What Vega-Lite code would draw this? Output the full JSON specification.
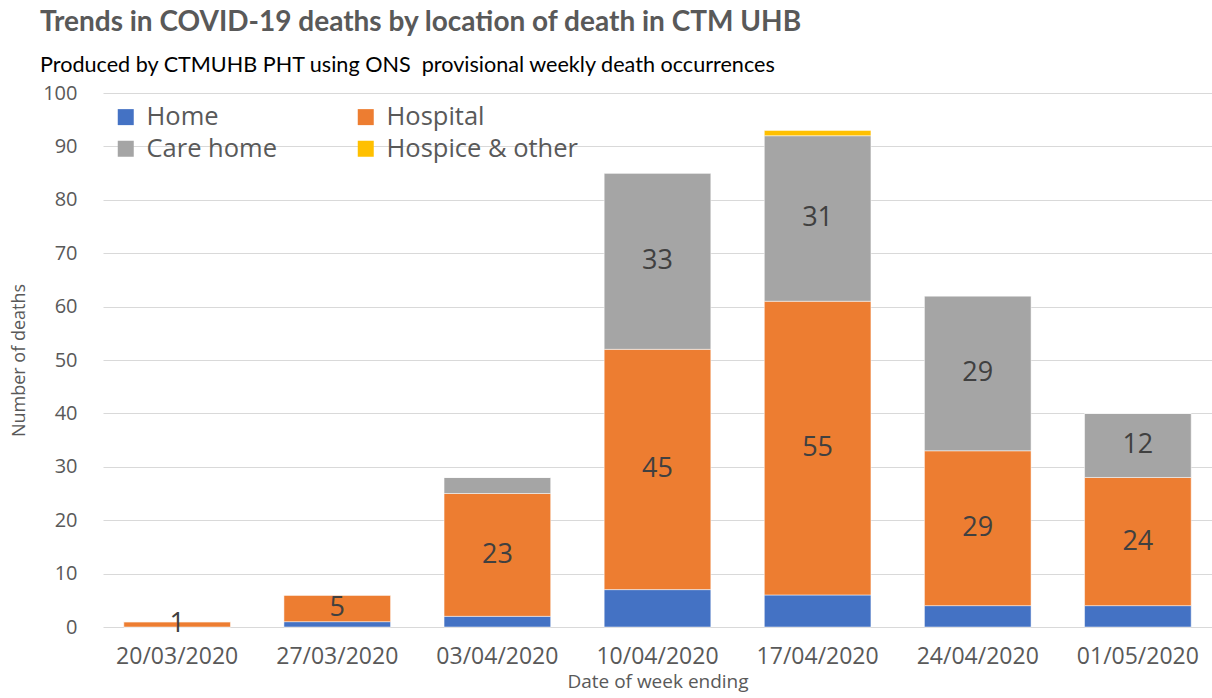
{
  "$schema": "https://vega.github.io/schema/vega-lite/v6.json",
  "autosize": {"type": "none"},
  "padding": {"left": 103, "top": 93, "right": 0, "bottom": 71},
  "width": 1109,
  "height": 534,
  "background": "white",
  "config": {
    "view": {"stroke": null},
    "font": "Open Sans"
  },
  "title": {
    "text": "Trends in COVID-19 deaths by location of death in CTM UHB",
    "subtitle": "Produced by CTMUHB PHT using ONS\u00a0 provisional weekly death occurrences",
    "anchor": "start",
    "frame": "group",
    "dx": -63,
    "offset": 6,
    "font": "Lato",
    "fontSize": 28,
    "fontWeight": "bold",
    "color": "#595959",
    "subtitleFont": "Lato",
    "subtitleFontSize": 21.6,
    "subtitleColor": "#000000",
    "subtitlePadding": 18
  },
  "data": {
    "values": [
      {"week": "20/03/2020", "location": "Home", "ord": 1, "deaths": 0},
      {"week": "20/03/2020", "location": "Hospital", "ord": 2, "deaths": 1},
      {"week": "20/03/2020", "location": "Care home", "ord": 3, "deaths": 0},
      {"week": "20/03/2020", "location": "Hospice & other", "ord": 4, "deaths": 0},
      {"week": "27/03/2020", "location": "Home", "ord": 1, "deaths": 1},
      {"week": "27/03/2020", "location": "Hospital", "ord": 2, "deaths": 5},
      {"week": "27/03/2020", "location": "Care home", "ord": 3, "deaths": 0},
      {"week": "27/03/2020", "location": "Hospice & other", "ord": 4, "deaths": 0},
      {"week": "03/04/2020", "location": "Home", "ord": 1, "deaths": 2},
      {"week": "03/04/2020", "location": "Hospital", "ord": 2, "deaths": 23},
      {"week": "03/04/2020", "location": "Care home", "ord": 3, "deaths": 3},
      {"week": "03/04/2020", "location": "Hospice & other", "ord": 4, "deaths": 0},
      {"week": "10/04/2020", "location": "Home", "ord": 1, "deaths": 7},
      {"week": "10/04/2020", "location": "Hospital", "ord": 2, "deaths": 45},
      {"week": "10/04/2020", "location": "Care home", "ord": 3, "deaths": 33},
      {"week": "10/04/2020", "location": "Hospice & other", "ord": 4, "deaths": 0},
      {"week": "17/04/2020", "location": "Home", "ord": 1, "deaths": 6},
      {"week": "17/04/2020", "location": "Hospital", "ord": 2, "deaths": 55},
      {"week": "17/04/2020", "location": "Care home", "ord": 3, "deaths": 31},
      {"week": "17/04/2020", "location": "Hospice & other", "ord": 4, "deaths": 1},
      {"week": "24/04/2020", "location": "Home", "ord": 1, "deaths": 4},
      {"week": "24/04/2020", "location": "Hospital", "ord": 2, "deaths": 29},
      {"week": "24/04/2020", "location": "Care home", "ord": 3, "deaths": 29},
      {"week": "24/04/2020", "location": "Hospice & other", "ord": 4, "deaths": 0},
      {"week": "01/05/2020", "location": "Home", "ord": 1, "deaths": 4},
      {"week": "01/05/2020", "location": "Hospital", "ord": 2, "deaths": 24},
      {"week": "01/05/2020", "location": "Care home", "ord": 3, "deaths": 12},
      {"week": "01/05/2020", "location": "Hospice & other", "ord": 4, "deaths": 0}
    ]
  },
  "transform": [
    {"stack": "deaths", "groupby": ["week"], "sort": [{"field": "ord", "order": "ascending"}], "as": ["y0", "y1"]},
    {"calculate": "(datum.y0 + datum.y1) / 2", "as": "ymid"}
  ],
  "encoding": {
    "x": {
      "field": "week",
      "type": "nominal",
      "sort": null,
      "scale": {"paddingInner": 0.334, "paddingOuter": 0.13},
      "axis": {
        "title": "Date of week ending",
        "labelAngle": 0,
        "labelFontSize": 23,
        "labelColor": "#595959",
        "labelPadding": 18,
        "ticks": false,
        "domain": false,
        "titleFontSize": 19,
        "titleFontWeight": "normal",
        "titleColor": "#595959",
        "titlePadding": 4
      }
    }
  },
  "layer": [
    {
      "mark": {"type": "bar", "stroke": "white", "strokeWidth": 0.5},
      "encoding": {
        "y": {
          "field": "y1",
          "type": "quantitative",
          "scale": {"domain": [0, 100]},
          "axis": {
            "title": "Number of deaths",
            "values": [0, 10, 20, 30, 40, 50, 60, 70, 80, 90, 100],
            "labelFontSize": 20,
            "labelColor": "#595959",
            "labelPadding": 26,
            "ticks": false,
            "domain": false,
            "gridColor": "#d9d9d9",
            "gridWidth": 1,
            "titleFontSize": 18,
            "titleFontWeight": "normal",
            "titleColor": "#595959",
            "titlePadding": 14
          }
        },
        "y2": {"field": "y0"},
        "color": {
          "field": "location",
          "type": "nominal",
          "scale": {
            "domain": ["Home", "Hospital", "Care home", "Hospice & other"],
            "range": ["#4472C4", "#ED7D31", "#A5A5A5", "#FFC000"]
          },
          "legend": {
            "title": null,
            "orient": "none",
            "direction": "horizontal",
            "legendX": 10,
            "legendY": 11,
            "columns": 2,
            "columnPadding": 75,
            "rowPadding": 5,
            "symbolType": "square",
            "symbolSize": 256,
            "symbolStrokeWidth": 0,
            "labelFontSize": 25.5,
            "labelColor": "#595959",
            "labelOffset": 8,
            "labelLimit": 300
          }
        }
      }
    },
    {
      "transform": [
        {"filter": "datum.location == 'Hospital' || (datum.location == 'Care home' && datum.deaths >= 10)"}
      ],
      "mark": {"type": "text", "fontSize": 27, "color": "#404040", "baseline": "middle"},
      "encoding": {
        "y": {"field": "ymid", "type": "quantitative"},
        "text": {"field": "deaths", "type": "quantitative"}
      }
    }
  ]
}
